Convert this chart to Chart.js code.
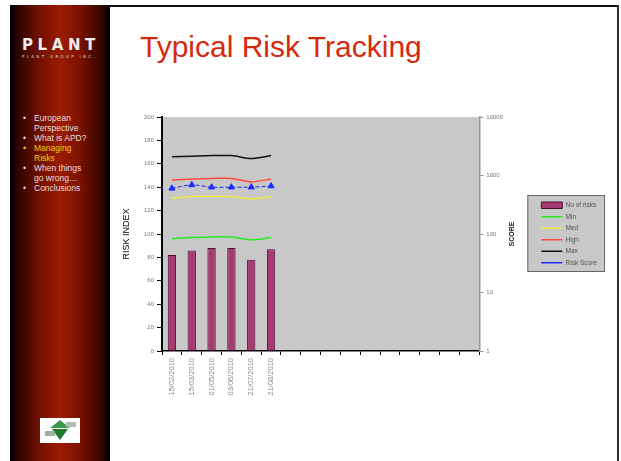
<!DOCTYPE html>
<html>
<head>
<meta charset="utf-8">
<script src="https://cdn.jsdelivr.net/npm/chart.js@4.4.1/dist/chart.umd.min.js"></script>
<style>
    body { margin: 0; width: 621px; height: 461px; background: #fff; overflow: hidden; position: relative; font-family: "Liberation Sans", Arial, sans-serif; }
    .sidebar { position: absolute; left: 10px; top: 5px; width: 100px; height: 456px;
        background: linear-gradient(to right, #000 0%, #2e0400 8%, #6e1000 28%, #9c1c02 50%, #7a1200 70%, #3a0600 90%, #000 100%); }
    .topline { position: absolute; left: 100px; top: 5px; width: 519px; height: 2px; background: #111; }
    .rightline { position: absolute; left: 617px; top: 5px; width: 2px; height: 456px; background: #333; }
    .logo { position: absolute; left: 22px; top: 36px; color: #eee; font: bold 15px "DejaVu Sans", sans-serif; letter-spacing: 4.6px; }
    .logo-sub { position: absolute; left: 22px; top: 54px; color: #ddd; font: 4px "DejaVu Sans", sans-serif; letter-spacing: 2.3px; }
    ul.menu { position: absolute; left: 14px; top: 113px; width: 78px; margin: 0; padding: 0; list-style: none; font-size: 8.5px; line-height: 10px; color: #e6dede; }
    ul.menu li { position: relative; padding-left: 20px; }
    ul.menu li::before { content: "\2022"; position: absolute; left: 9px; }
    ul.menu li.active { color: #f2d000; }
    .badge { position: absolute; left: 40px; top: 418px; width: 40px; height: 25px; background: #fff; }
    h1 { position: absolute; left: 140px; top: 30px; margin: 0; font-weight: normal; font-size: 30px; color: #d42a10; }
    #chartBox { position: absolute; left: 110px; top: 100px; width: 505px; height: 320px; }
</style>
</head>
<body>
<div class="sidebar"></div>
<div class="topline"></div>
<div class="rightline"></div>
<div class="logo">PLANT</div>
<div class="logo-sub">PLANT GROUP INC.</div>
<ul class="menu">
    <li>European Perspective</li>
    <li>What is APD?</li>
    <li class="active">Managing Risks</li>
    <li>When things go wrong…</li>
    <li>Conclusions</li>
</ul>
<div class="badge">
    <svg width="40" height="25" viewBox="0 0 40 25">
        <polygon points="20,2 30,10 10,10" fill="#3a9a4a"/>
        <polygon points="12,11 28,11 20,22" fill="#1f7a30"/>
        <rect x="5" y="13" width="10" height="5" fill="#9ab0a0"/>
        <rect x="26" y="4" width="10" height="5" fill="#b0c0b0"/>
    </svg>
</div>
<h1>Typical Risk Tracking</h1>
<div id="chartBox"><canvas id="riskChart" width="505" height="320"></canvas></div>

<script>
/* ============================================
   DATA
============================================ */

const dateLabels = ["15/02/2010", "15/03/2010", "01/05/2010", "03/06/2010", "21/07/2010", "21/08/2010",
    "", "", "", "", "", "", "", "", "", ""];

const noOfRisks = [82, 86, 88, 88, 78, 87];
const minLine   = [96, 97, 97.5, 97.5, 95, 97];
const medLine   = [130.5, 132, 132, 132, 130, 132];
const highLine  = [146, 147, 147.5, 147.5, 144.5, 147];
const maxLine   = [166, 166.5, 167, 167, 164.5, 167];
const riskScore = [139, 142, 140, 140, 140, 141];

const scoreTicks = [1, 10, 100, 1000, 10000];

/* ============================================
   Plugins: grey plot area, legend box, SCORE title
============================================ */

const slideBackdrop = {
    id: "slideBackdrop",
    beforeDraw(chart) {
        const ctx = chart.ctx;
        const a = chart.chartArea;
        ctx.save();
        ctx.fillStyle = "#c8c8c8";
        ctx.fillRect(a.left, a.top, a.right - a.left, a.bottom - a.top);

        // box behind the legend
        const boxes = chart.legend.legendHitBoxes;
        if (boxes && boxes.length) {
            const x0 = Math.min(...boxes.map(b => b.left)) - 14;
            const y0 = Math.min(...boxes.map(b => b.top)) - 7;
            const x1 = Math.max(...boxes.map(b => b.left + b.width)) + 7;
            const y1 = Math.max(...boxes.map(b => b.top + b.height)) + 5;
            ctx.fillStyle = "#c8c8c8";
            ctx.fillRect(x0, y0, x1 - x0, y1 - y0);
            ctx.strokeStyle = "#666";
            ctx.lineWidth = 1;
            ctx.strokeRect(x0 + 0.5, y0 + 0.5, x1 - x0, y1 - y0);
        }
        ctx.restore();
    },
    afterDraw(chart) {
        const s = chart.scales.y2;
        const ctx = chart.ctx;
        ctx.save();
        ctx.translate(s.left + 33, (s.top + s.bottom) / 2);
        ctx.rotate(-Math.PI / 2);
        ctx.font = "bold 7px 'Liberation Sans', Arial";
        ctx.fillStyle = "#222";
        ctx.textAlign = "center";
        ctx.textBaseline = "middle";
        ctx.fillText("SCORE", 0, 0);
        ctx.restore();
    }
};

/* ============================================
   Chart
============================================ */

function lineSet(label, data, color, extra) {
    return Object.assign({
        type: "line",
        label: label,
        data: data,
        borderColor: color,
        backgroundColor: color,
        borderWidth: 1.5,
        pointRadius: 0,
        tension: 0.3,
        yAxisID: "y"
    }, extra || {});
}

new Chart(document.getElementById("riskChart"), {
    type: "bar",
    data: {
        labels: dateLabels,
        datasets: [
            {
                label: "No of risks",
                data: noOfRisks,
                backgroundColor: "#a83a72",
                borderColor: "#4a1030",
                borderWidth: 1,
                categoryPercentage: 1,
                barPercentage: 0.42,
                yAxisID: "y"
            },
            lineSet("Min", minLine, "#22ee22"),
            lineSet("Med", medLine, "#f0e840"),
            lineSet("High", highLine, "#ff4a3a"),
            lineSet("Max", maxLine, "#111111"),
            lineSet("Risk Score", riskScore, "#1a2cff", {
                borderWidth: 1,
                borderDash: [4, 2],
                pointRadius: 3.5,
                pointStyle: "triangle",
                pointBackgroundColor: "#1a2cff"
            })
        ]
    },
    options: {
        responsive: false,
        animation: false,
        layout: { padding: { left: 0, top: 17, right: 8, bottom: 9 } },
        plugins: {
            tooltip: { enabled: false },
            legend: {
                position: "right",
                fullSize: false,
                labels: {
                    color: "#555",
                    font: { size: 6.5, family: "'Liberation Sans', Arial" },
                    usePointStyle: true,
                    pointStyleWidth: 21,
                    padding: 5,
                    generateLabels(chart) {
                        const items = Chart.defaults.plugins.legend.labels.generateLabels(chart);
                        items.forEach((it, i) => {
                            it.pointStyle = i === 0 ? "rect" : "line";
                            it.lineWidth = i === 0 ? 1 : 1.5;
                            it.lineDash = [];
                        });
                        return items;
                    }
                }
            }
        },
        scales: {
            x: {
                grid: { display: true, drawOnChartArea: false, offset: true, color: "#000", tickLength: 4 },
                border: { color: "#000", width: 1.5 },
                ticks: { autoSkip: false, maxRotation: 90, minRotation: 90, color: "#888",
                    font: { size: 7.5, family: "'Liberation Sans', Arial" } },
                afterFit(s) { s.height = 60; }
            },
            y: {
                position: "left",
                min: 0,
                max: 200,
                ticks: { stepSize: 20, color: "#777", padding: 3, font: { size: 6, family: "'Liberation Sans', Arial" } },
                grid: { drawOnChartArea: false, color: "#000", tickLength: 5 },
                border: { color: "#000", width: 2 },
                title: { display: true, text: "RISK INDEX", color: "#000", padding: { top: 11, bottom: 0 },
                    font: { size: 9, family: "'Liberation Sans', Arial" } },
                afterFit(s) { s.width = 52; }
            },
            y2: {
                type: "logarithmic",
                position: "right",
                min: 1,
                max: 10000,
                afterBuildTicks(s) { s.ticks = scoreTicks.map(v => ({ value: v })); },
                ticks: { color: "#777", padding: 3, font: { size: 6, family: "'Liberation Sans', Arial" },
                    callback: v => String(v) },
                grid: { drawOnChartArea: false, color: "#888", tickLength: 4 },
                border: { color: "#999", width: 1.5 },
                afterFit(s) { s.width = 57; }
            }
        }
    },
    plugins: [slideBackdrop]
});
</script>
</body>
</html>
